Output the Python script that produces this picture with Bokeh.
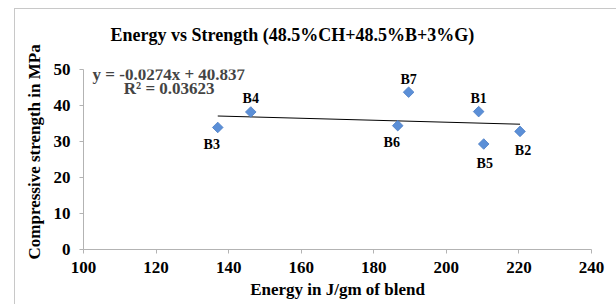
from bokeh.plotting import figure
from bokeh.models import ColumnDataSource, Range1d, SingleIntervalTicker, Label, Title
from bokeh.core.properties import value
from bokeh.embed import file_html
from bokeh.resources import INLINE

# data
names = ["B1", "B2", "B3", "B4", "B5", "B6", "B7"]
energy = [208.9, 220.3, 137.0, 146.1, 210.3, 186.6, 189.6]
strength = [38.3, 32.8, 33.9, 38.2, 29.3, 34.4, 43.7]
label_side = ["above", "below-right", "below-left", "above", "below", "below-left", "above"]
slope = -0.0274
intercept = 40.837
r2_text = "R² = 0.03623"
eq_text = "y = -0.0274x + 40.837"

FONT = "Liberation Serif"

offsets = {
    "above": (0, -13),
    "below": (1, 19),
    "below-right": (3, 19),
    "below-left": (-6, 17),
}
xo = [offsets[s][0] for s in label_side]
yo = [offsets[s][1] for s in label_side]

src = ColumnDataSource(dict(x=energy, y=strength, name=names, xo=xo, yo=yo))

p = figure(width=616, height=304, output_backend="svg", toolbar_location=None,
           x_range=Range1d(100, 240), y_range=Range1d(0, 50),
           min_border_left=83, min_border_right=25, min_border_top=69, min_border_bottom=55)

# chart-area border: top and left edges, drawn behind a transparent canvas border
line_bg = "linear-gradient(#c8c8c8, #c8c8c8)"
p.styles = {
    "background": f"{line_bg} 14px 8px / 602px 1px no-repeat, "
                  f"{line_bg} 14px 8px / 1px 296px no-repeat, white",
}
p.border_fill_color = None

p.title.text = "Energy vs Strength (48.5%CH+48.5%B+3%G)"
p.title.text_font = FONT
p.title.text_font_style = "bold"
p.title.text_font_size = "18px"
p.title.text_color = "black"
p.title.align = "left"
p.title.offset = 27
p.title.vertical_align = "top"
p.title.standoff = 46

p.xgrid.visible = False
p.ygrid.visible = False
p.outline_line_color = None
p.background_fill_color = "white"

p.xaxis.ticker = SingleIntervalTicker(interval=20)
p.yaxis.ticker = SingleIntervalTicker(interval=10)
for ax in (p.xaxis, p.yaxis):
    ax.axis_line_color = "#b3b3b3"
    ax.major_tick_line_color = "#b3b3b3"
    ax.major_tick_out = 4
    ax.major_tick_in = 0
    ax.minor_tick_line_color = None
    ax.major_label_text_font = FONT
    ax.major_label_text_font_style = "bold"
    ax.major_label_text_font_size = "17px"
    ax.major_label_text_color = "black"
    ax.axis_label_text_font = FONT
    ax.axis_label_text_font_style = "bold"
    ax.axis_label_text_font_size = "17px"
    ax.axis_label_text_color = "black"
p.yaxis.major_label_standoff = 9
p.xaxis.major_label_standoff = 8
p.xaxis.axis_label = "Energy in J/gm of blend"
p.xaxis.axis_label_standoff = 4

# y axis title, sitting a little above the frame centre as in the original
ytitle = Title(text="Compressive strength in MPa", align="left", offset=-10,
               text_font=FONT, text_font_style="bold", text_font_size="17px",
               text_color="black", standoff=14)
p.add_layout(ytitle, "left")

# trend line over data extent
xmin, xmax = min(energy), max(energy)
p.line([xmin, xmax], [slope * xmin + intercept, slope * xmax + intercept],
       line_color="black", line_width=1)

p.scatter("x", "y", source=src, marker="square", angle=0.785398, size=7.5,
          fill_color="#5b8fd7", line_color="#4a7cc4", line_width=0.8)

p.text("x", "y", text="name", source=src, x_offset="xo", y_offset="yo",
       text_font=value(FONT), text_font_style="bold", text_font_size="14px",
       text_align="center", text_baseline="middle", text_color="black")

p.add_layout(Label(x=102.5, y=48.7, text=eq_text, text_font=FONT, text_font_style="bold",
                   text_font_size="17px", text_baseline="middle", text_align="left"))
p.add_layout(Label(x=111.1, y=44.6, text=r2_text, text_font=FONT, text_font_style="bold",
                   text_font_size="17px", text_baseline="middle", text_align="left"))

open("out.html", "w").write(file_html(p, INLINE))
